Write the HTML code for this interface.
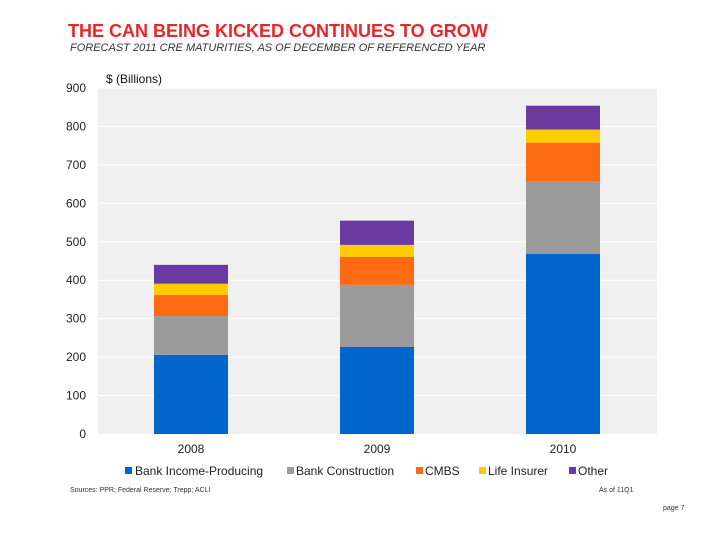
<!DOCTYPE html>
<html><head><meta charset="utf-8"><style>
body{margin:0;background:#fff;width:720px;height:540px;overflow:hidden;font-family:"Liberation Sans",sans-serif}
</style></head><body>
<svg width="720" height="540" xmlns="http://www.w3.org/2000/svg">
<text x="68" y="37" font-size="18" font-weight="bold" fill="#e8262a">THE CAN BEING KICKED CONTINUES TO GROW</text>
<text x="70" y="51" font-size="11" font-style="italic" fill="#333">FORECAST 2011 CRE MATURITIES, AS OF DECEMBER OF REFERENCED YEAR</text>
<rect x="98" y="88" width="559" height="346" fill="#f0f0f0"/>
<text x="106" y="83" font-size="12" fill="#111">$ (Billions)</text>
<g id="grid"></g><g id="bars"></g><g id="xl"></g>
<g font-size="12" fill="#222">
<rect x="125" y="467" width="7" height="7" fill="#0066cc"/><text x="135" y="475">Bank Income-Producing</text>
<rect x="287" y="467" width="7" height="7" fill="#9b9b9b"/><text x="296" y="475">Bank Construction</text>
<rect x="416" y="467" width="7" height="7" fill="#ff6a13"/><text x="425" y="475">CMBS</text>
<rect x="479" y="467" width="7" height="7" fill="#ffcc00"/><text x="488" y="475">Life Insurer</text>
<rect x="569" y="467" width="7" height="7" fill="#6a3aa0"/><text x="578" y="475">Other</text>
</g>
<text x="70" y="492" font-size="7" fill="#333">Sources: PPR; Federal Reserve; Trepp; ACLI</text>
<text x="599" y="492" font-size="7" fill="#333">As of 11Q1</text>
<text x="663" y="510" font-size="7" fill="#333">page 7</text>
</svg>
<script>
const categories=["2008","2009","2010"];
const bankIncome=[206,227,469];
const bankConstruction=[101,161,187];
const cmbs=[55,73,102];
const lifeInsurer=[29,31,34];
const other=[49,63,62];
const yTicks=[0,100,200,300,400,500,600,700,800,900];
const series=[bankIncome,bankConstruction,cmbs,lifeInsurer,other];
const colors=["#0066cc","#9b9b9b","#ff6a13","#ffcc00","#6a3aa0"];
const names=["bank-income","bank-construction","cmbs","life-insurer","other"];
const NS="http://www.w3.org/2000/svg";
const y=v=>434-v*0.3844;
const x=i=>154+i*186;
const g=document.getElementById('grid');
yTicks.forEach(t=>{
 if(t>0){const l=document.createElementNS(NS,'line');l.setAttribute('x1',98);l.setAttribute('x2',657);l.setAttribute('y1',y(t));l.setAttribute('y2',y(t));l.setAttribute('stroke','#fff');l.setAttribute('stroke-width',1);
 
 g.appendChild(l);}
 const tx=document.createElementNS(NS,'text');tx.setAttribute('x',86);tx.setAttribute('y',y(t)+4);tx.setAttribute('text-anchor','end');tx.setAttribute('font-size','12');tx.setAttribute('fill','#222');tx.textContent=t;
 
 g.appendChild(tx);
});
const b=document.getElementById('bars');
categories.forEach((c,i)=>{
 let base=0;
 series.forEach((s,k)=>{
  const r=document.createElementNS(NS,'rect');
  r.setAttribute('x',x(i));r.setAttribute('width',74);
  r.setAttribute('y',y(base+s[i]));r.setAttribute('height',y(base)-y(base+s[i]));r.setAttribute('fill',colors[k]);
  
  
  b.appendChild(r);base+=s[i];
 });
 const t=document.createElementNS(NS,'text');t.setAttribute('x',x(i)+37);t.setAttribute('y',453);t.setAttribute('text-anchor','middle');t.setAttribute('font-size','12');t.setAttribute('fill','#222');t.textContent=c;
 
 
 document.getElementById('xl').appendChild(t);
});
</script>
</body></html>
